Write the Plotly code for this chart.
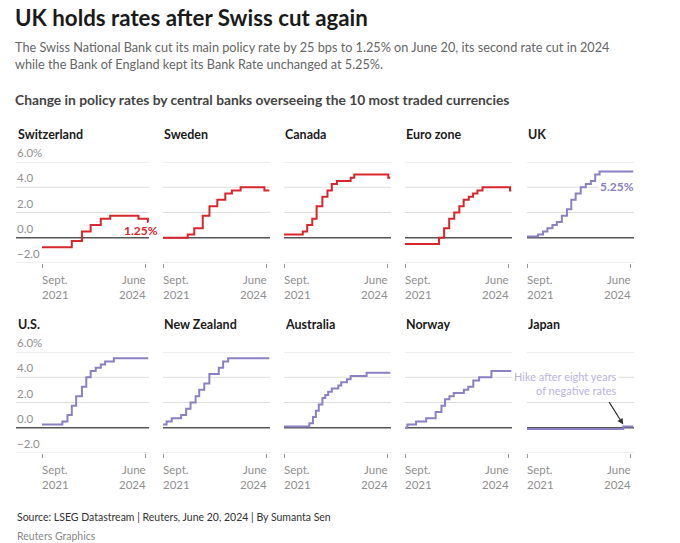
import plotly.graph_objects as go
import pandas as pd

# ---------------- data ----------------
countries = ["Switzerland", "Sweden", "Canada", "Euro zone", "UK",
             "U.S.", "New Zealand", "Australia", "Norway", "Japan"]

switzerland_dates = ["2021-09-01", "2022-06-16", "2022-09-22", "2022-12-15", "2023-03-23",
                     "2023-06-22", "2024-03-21", "2024-06-20"]
switzerland_rates = [-0.75, -0.25, 0.5, 1.0, 1.5, 1.75, 1.5, 1.25]

sweden_dates = ["2021-09-01", "2022-04-28", "2022-06-30", "2022-09-20", "2022-11-24",
                "2023-02-08", "2023-04-26", "2023-06-29", "2023-09-21", "2024-05-08"]
sweden_rates = [0.0, 0.25, 0.75, 1.75, 2.5, 3.0, 3.5, 3.75, 4.0, 3.75]

canada_dates = ["2021-09-01", "2022-03-02", "2022-04-13", "2022-06-01", "2022-07-13",
                "2022-09-07", "2022-10-26", "2022-12-07", "2023-01-25", "2023-06-07",
                "2023-07-12", "2024-06-05"]
canada_rates = [0.25, 0.5, 1.0, 1.5, 2.5, 3.25, 3.75, 4.25, 4.5, 4.75, 5.0, 4.75]

euro_dates = ["2021-09-01", "2022-07-27", "2022-09-14", "2022-11-02", "2022-12-21",
              "2023-02-08", "2023-03-22", "2023-05-10", "2023-06-21", "2023-08-02",
              "2023-09-20", "2024-06-12"]
euro_rates = [-0.5, 0.0, 0.75, 1.5, 2.0, 2.5, 3.0, 3.25, 3.5, 3.75, 4.0, 3.75]

uk_dates = ["2021-09-01", "2021-12-16", "2022-02-03", "2022-03-17", "2022-05-05",
            "2022-06-16", "2022-08-04", "2022-09-22", "2022-11-03", "2022-12-15",
            "2023-02-02", "2023-03-23", "2023-05-11", "2023-06-22", "2023-08-03"]
uk_rates = [0.1, 0.25, 0.5, 0.75, 1.0, 1.25, 1.75, 2.25, 3.0, 3.5, 4.0, 4.25, 4.5, 5.0, 5.25]

us_dates = ["2021-09-01", "2022-03-17", "2022-05-05", "2022-06-16", "2022-07-28",
            "2022-09-22", "2022-11-03", "2022-12-15", "2023-02-02", "2023-03-23",
            "2023-05-04", "2023-07-27"]
us_rates = [0.25, 0.5, 1.0, 1.75, 2.5, 3.25, 4.0, 4.5, 4.75, 5.0, 5.25, 5.5]

nz_dates = ["2021-09-01", "2021-10-06", "2021-11-24", "2022-02-23", "2022-04-13",
            "2022-05-25", "2022-07-13", "2022-08-17", "2022-10-05", "2022-11-23",
            "2023-02-22", "2023-04-05", "2023-05-24"]
nz_rates = [0.25, 0.5, 0.75, 1.0, 1.5, 2.0, 2.5, 3.0, 3.5, 4.25, 4.75, 5.25, 5.5]

australia_dates = ["2021-09-01", "2022-05-04", "2022-06-08", "2022-07-06", "2022-08-03",
                   "2022-09-07", "2022-10-05", "2022-11-02", "2022-12-07", "2023-02-08",
                   "2023-03-08", "2023-05-03", "2023-06-07", "2023-11-08"]
australia_rates = [0.1, 0.35, 0.85, 1.35, 1.85, 2.35, 2.6, 2.85, 3.1, 3.35, 3.6, 3.85, 4.1, 4.35]

norway_dates = ["2021-09-01", "2021-09-24", "2021-12-17", "2022-03-25", "2022-06-24",
                "2022-08-19", "2022-09-23", "2022-11-04", "2022-12-16", "2023-03-24",
                "2023-05-05", "2023-06-23", "2023-08-18", "2023-12-15"]
norway_rates = [0.0, 0.25, 0.5, 0.75, 1.25, 1.75, 2.25, 2.5, 2.75, 3.0, 3.25, 3.75, 4.0, 4.5]

japan_dates = ["2021-09-01", "2024-03-19"]
japan_rates = [-0.1, 0.1]

end_date = "2024-06-24"

series_dates = [switzerland_dates, sweden_dates, canada_dates, euro_dates, uk_dates,
                us_dates, nz_dates, australia_dates, norway_dates, japan_dates]
series_rates = [switzerland_rates, sweden_rates, canada_rates, euro_rates, uk_rates,
                us_rates, nz_rates, australia_rates, norway_rates, japan_rates]
series_cut = [True, True, True, True, False, False, False, False, False, False]

y_ticks = [6, 4, 2, 0, -2]
y_tick_labels = ["6.0%", "4.0", "2.0", "0.0", "\u22122.0"]
x_tick_dates = ["2021-09-01", "2024-06-01"]
x_tick_labels = ["Sept.<br>2021", "June<br>2024"]

# ---------------- layout constants ----------------
W, H = 680, 543
FONT = "Lato"
RED = "#d8262c"
PURPLE = "#8a80c4"
col_left = [42, 163, 284, 405, 527]
col_w = 107
col0_ext = 26
row_top = [162, 352]
row_bot = [263, 453]
x_start = pd.Timestamp("2021-09-01")
x_end = pd.Timestamp("2024-07-01")


def px(x):
    return x / W


def py(y):
    return 1 - y / H


fig = go.Figure()
layout = dict(width=W, height=H, margin=dict(l=0, r=0, t=0, b=0),
              paper_bgcolor="white", plot_bgcolor="white", showlegend=False,
              font=dict(family=FONT))
shapes = []
annotations = []

for i, name in enumerate(countries):
    n = i + 1
    r, c = divmod(i, 5)
    xs = "" if n == 1 else str(n)
    left = col_left[c]
    rng_start = x_start
    if c == 0:
        left = col_left[c] - col0_ext
        span = (x_end - x_start) * ((col_w + col0_ext) / col_w)
        rng_start = x_end - span
    layout["xaxis" + xs] = dict(
        domain=[px(left), px(col_left[c] + col_w)], anchor="y" + xs, type="date",
        range=[rng_start, x_end], showgrid=False, zeroline=False, showline=False,
        ticks="outside", ticklen=4, tickwidth=1, tickcolor="#999",
        tickvals=x_tick_dates, showticklabels=False, fixedrange=True)
    layout["yaxis" + xs] = dict(
        domain=[py(row_bot[r]), py(row_top[r])], anchor="x" + xs, range=[-2, 6],
        showgrid=False, zeroline=False, showline=False, showticklabels=False,
        fixedrange=True)

    d = list(series_dates[i]) + [end_date]
    v = list(series_rates[i]) + [series_rates[i][-1]]
    fig.add_trace(go.Scatter(x=d, y=v, mode="lines", line_shape="hv",
                             line=dict(color=RED if series_cut[i] else PURPLE, width=2),
                             xaxis="x" + xs, yaxis="y" + xs, hoverinfo="skip"))

    for t in y_ticks:
        shapes.append(dict(type="line", xref=f"x{xs} domain", x0=0, x1=1,
                           yref="y" + xs, y0=t, y1=t, layer="below",
                           line=dict(color="#555555" if t == 0 else "#dddddd",
                                     width=1.3 if t == 0 else 1)))

    # panel title
    annotations.append(dict(text=f"<b>{name}</b>", xref="paper", yref="paper",
                            x=px(col_left[c] - (26 if c == 0 else 1)), y=py(row_top[r] - 28),
                            xanchor="left", yanchor="middle", showarrow=False,
                            font=dict(size=12.5, color="#1a1a1a")))
    # x tick labels
    for k, (td, tl) in enumerate(zip(x_tick_dates, x_tick_labels)):
        annotations.append(dict(text=tl, xref="x" + xs, yref=f"y{xs} domain",
                                x=td, y=0, xanchor="left" if k == 0 else "right",
                                yanchor="top", yshift=-8, showarrow=False,
                                align="left" if k == 0 else "right",
                                xshift=-2 if k == 0 else 2,
                                font=dict(size=11.5, color="#8f8f8f")))
    # y tick labels
    if c == 0:
        for t, tl in zip(y_ticks, y_tick_labels):
            annotations.append(dict(text=tl, xref="paper", yref="y" + xs,
                                    x=px(15), y=t, xanchor="left", yanchor="bottom",
                                    yshift=1, showarrow=False,
                                    font=dict(size=11.5, color="#8f8f8f")))

# value labels
annotations.append(dict(text="<b>1.25%</b>", xref="x", yref="y", x=end_date,
                        y=switzerland_rates[-1], xanchor="right", yanchor="middle",
                        xshift=12, yshift=-9, showarrow=False,
                        font=dict(size=12, color=RED)))
annotations.append(dict(text="<b>5.25%</b>", xref="x5", yref="y5", x=end_date,
                        y=uk_rates[-1], xanchor="right", yanchor="middle",
                        xshift=3, yshift=-15.5, showarrow=False, bgcolor="white",
                        font=dict(size=12, color=PURPLE)))
# Japan note
annotations.append(dict(text="Hike after eight years<br>of negative rates", xref="paper",
                        yref="paper", x=px(619), y=py(383), xanchor="right",
                        yanchor="middle", align="right", showarrow=False, bgcolor="white",
                        font=dict(size=11, color="#bab4e2")))
annotations.append(dict(text="", xref="x10", yref="y10", x=japan_dates[-1], y=0.25,
                        ax=-15, ay=-24, showarrow=True, arrowhead=2, arrowsize=1,
                        arrowwidth=1.2, arrowcolor="#333333", standoff=0))

# header & footer
annotations += [
    dict(text="<b>UK holds rates after Swiss cut again</b>", xref="paper", yref="paper",
         x=px(13), y=py(17), xanchor="left", yanchor="middle", showarrow=False,
         font=dict(size=22.3, color="#1a1a1a")),
    dict(text="The Swiss National Bank cut its main policy rate by 25 bps to 1.25% on June 20, its second rate cut in 2024<br>"
              "while the Bank of England kept its Bank Rate unchanged at 5.25%.",
         xref="paper", yref="paper", x=px(13), y=py(56), xanchor="left", yanchor="middle",
         align="left", showarrow=False, font=dict(size=12.7, color="#666666")),
    dict(text="<b>Change in policy rates by central banks overseeing the 10 most traded currencies</b>",
         xref="paper", yref="paper", x=px(13), y=py(100), xanchor="left", yanchor="middle",
         showarrow=False, font=dict(size=13.8, color="#444444")),
    dict(text="Source: LSEG Datastream | Reuters, June 20, 2024 | By Sumanta Sen",
         xref="paper", yref="paper", x=px(15), y=py(517), xanchor="left", yanchor="middle",
         showarrow=False, font=dict(size=10.5, color="#333333")),
    dict(text="Reuters Graphics", xref="paper", yref="paper", x=px(15), y=py(536),
         xanchor="left", yanchor="middle", showarrow=False,
         font=dict(size=10.5, color="#888888")),
]

layout["shapes"] = shapes
layout["annotations"] = annotations
fig.update_layout(**layout)
fig.write_html("out.html", config={"displayModeBar": False},
               post_script="document.body.style.margin='0';document.body.style.overflow='hidden';")
